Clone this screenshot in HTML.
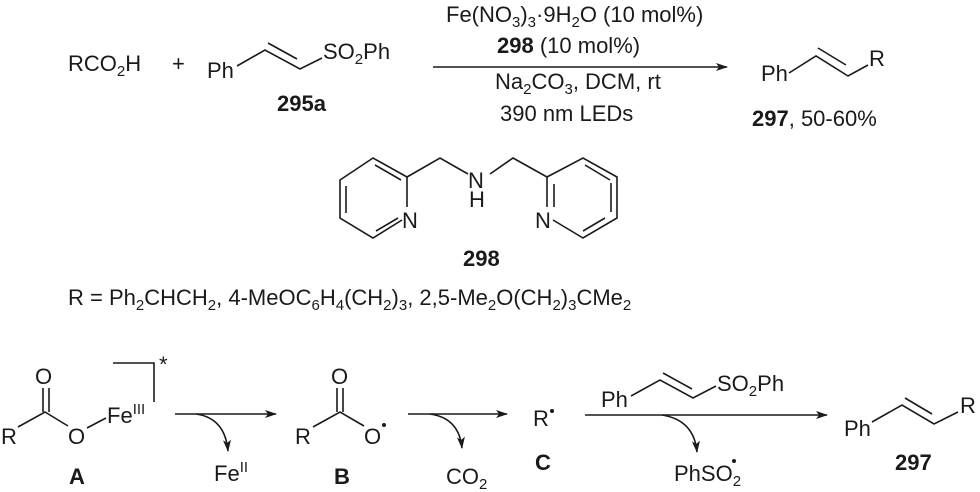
<!DOCTYPE html>
<html><head><meta charset="utf-8"><style>
html,body{margin:0;padding:0;background:#fff;}
svg{display:block;}
text{font-family:"Liberation Sans",Arial,sans-serif;font-size:22px;fill:#1a1a1a;}
.b{font-weight:bold;}
line,polyline,path{stroke:#1a1a1a;stroke-width:1.6;fill:none;}
</style></head><body>
<svg width="980" height="492" viewBox="0 0 980 492" xmlns="http://www.w3.org/2000/svg">
<defs><marker id="ah" markerWidth="12" markerHeight="8" refX="11" refY="4" orient="auto" markerUnits="userSpaceOnUse"><path d="M0,0 L12,4 L0,8 L3,4 Z" style="fill:#1a1a1a;stroke:none"/></marker></defs>

<!-- top reaction -->
<text x="68" y="71">RCO<tspan font-size="15" dy="5">2</tspan><tspan dy="-5">H</tspan></text>
<text x="172" y="71">+</text>
<text x="207" y="78">Ph</text>
<polyline points="237,66 265,50 300,69 322,58"/>
<line x1="268" y1="43" x2="297" y2="59"/>
<text x="323" y="59">SO<tspan font-size="15" dy="5">2</tspan><tspan dy="-5">Ph</tspan></text>
<text class="b" x="277" y="111">295a</text>

<line x1="433" y1="67" x2="727" y2="67" marker-end="url(#ah)"/>
<text x="446" y="22">Fe(NO<tspan font-size="15" dy="5">3</tspan><tspan dy="-5">)</tspan><tspan font-size="15" dy="5">3</tspan><tspan dy="-5">·9H</tspan><tspan font-size="15" dy="5">2</tspan><tspan dy="-5">O (10 mol%)</tspan></text>
<text x="497" y="53"><tspan class="b">298</tspan> (10 mol%)</text>
<text x="495" y="89">Na<tspan font-size="15" dy="5">2</tspan><tspan dy="-5">CO</tspan><tspan font-size="15" dy="5">3</tspan><tspan dy="-5">, DCM, rt</tspan></text>
<text x="500" y="121">390 nm LEDs</text>

<text x="761" y="81">Ph</text>
<polyline points="789,73 816,56 848,76 868,65"/>
<line x1="818" y1="48" x2="846" y2="65"/>
<text x="869" y="66">R</text>
<text x="752" y="126"><tspan class="b">297</tspan>, 50-60%</text>

<!-- ligand 298 -->
<polyline points="402,220 373,238 340,218 340,180 373,158 407,177 407,207"/>
<line x1="346" y1="186" x2="346" y2="213"/>
<line x1="375" y1="165" x2="401" y2="180"/>
<line x1="376" y1="231" x2="398" y2="218"/>
<text x="402" y="228">N</text>
<polyline points="407,177 440,158 468,174"/>
<text x="468" y="188">N</text>
<text x="469" y="207">H</text>
<polyline points="490,174 513,158 547,177 547,207"/>
<polyline points="553,220 583,238 617,218 617,177 583,158 547,177"/>
<line x1="611" y1="183" x2="611" y2="212"/>
<line x1="554" y1="184" x2="554" y2="207"/>
<line x1="583" y1="231" x2="605" y2="218"/>
<line x1="585" y1="165" x2="610" y2="180"/>
<text x="535" y="228">N</text>
<text class="b" x="463" y="266">298</text>

<text x="68" y="305">R = Ph<tspan font-size="15" dy="5">2</tspan><tspan dy="-5">CHCH</tspan><tspan font-size="15" dy="5">2</tspan><tspan dy="-5">, 4-MeOC</tspan><tspan font-size="15" dy="5">6</tspan><tspan dy="-5">H</tspan><tspan font-size="15" dy="5">4</tspan><tspan dy="-5">(CH</tspan><tspan font-size="15" dy="5">2</tspan><tspan dy="-5">)</tspan><tspan font-size="15" dy="5">3</tspan><tspan dy="-5">, 2,5-Me</tspan><tspan font-size="15" dy="5">2</tspan><tspan dy="-5">O(CH</tspan><tspan font-size="15" dy="5">2</tspan><tspan dy="-5">)</tspan><tspan font-size="15" dy="5">3</tspan><tspan dy="-5">CMe</tspan><tspan font-size="15" dy="5">2</tspan></text>

<!-- mechanism A -->
<text x="1" y="444">R</text>
<polyline points="18,427 45,412 68,426"/>
<line x1="43" y1="412" x2="43" y2="388"/>
<line x1="49" y1="412" x2="49" y2="388"/>
<text x="35" y="384">O</text>
<text x="68" y="444">O</text>
<line x1="87" y1="428" x2="106" y2="418"/>
<text x="107" y="423">Fe<tspan font-size="15" dy="-9">III</tspan></text>
<polyline points="113,363 154,363 154,402"/>
<text x="159" y="372" font-size="15">*</text>
<text class="b" x="69" y="484">A</text>

<line x1="175" y1="414" x2="276" y2="414" marker-end="url(#ah)"/>
<path d="M196,414 Q225,418 228,451" marker-end="url(#ah)"/>
<text x="214" y="481">Fe<tspan font-size="15" dy="-9">II</tspan></text>

<!-- B -->
<text x="295" y="444">R</text>
<polyline points="313,427 340,412 364,426"/>
<line x1="337" y1="412" x2="337" y2="388"/>
<line x1="343" y1="412" x2="343" y2="388"/>
<text x="331" y="384">O</text>
<text x="364" y="444">O</text>
<circle cx="384" cy="425" r="2" fill="#1a1a1a"/>
<text class="b" x="334" y="484">B</text>

<line x1="408" y1="414" x2="507" y2="414" marker-end="url(#ah)"/>
<path d="M430,414 Q459,418 462,448" marker-end="url(#ah)"/>
<text x="446" y="484">CO<tspan font-size="15" dy="5">2</tspan></text>

<!-- C -->
<text x="533" y="426">R</text>
<circle cx="552" cy="411" r="2" fill="#1a1a1a"/>
<text class="b" x="535" y="470">C</text>

<line x1="585" y1="415" x2="827" y2="415" marker-end="url(#ah)"/>
<path d="M662,415 Q694,420 697,452" marker-end="url(#ah)"/>
<text x="601" y="407">Ph</text>
<polyline points="631,396 660,380 693,398 716,386"/>
<line x1="663" y1="373" x2="692" y2="389"/>
<text x="717" y="391">SO<tspan font-size="15" dy="5">2</tspan><tspan dy="-5">Ph</tspan></text>
<text x="674" y="481">PhSO<tspan font-size="15" dy="5">2</tspan></text>
<circle cx="734" cy="461" r="2" fill="#1a1a1a"/>

<text x="844" y="436">Ph</text>
<polyline points="872,422 902,405 934,424 958,412"/>
<line x1="905" y1="398" x2="932" y2="414"/>
<text x="960" y="413">R</text>
<text class="b" x="895" y="470">297</text>
</svg>
</body></html>
